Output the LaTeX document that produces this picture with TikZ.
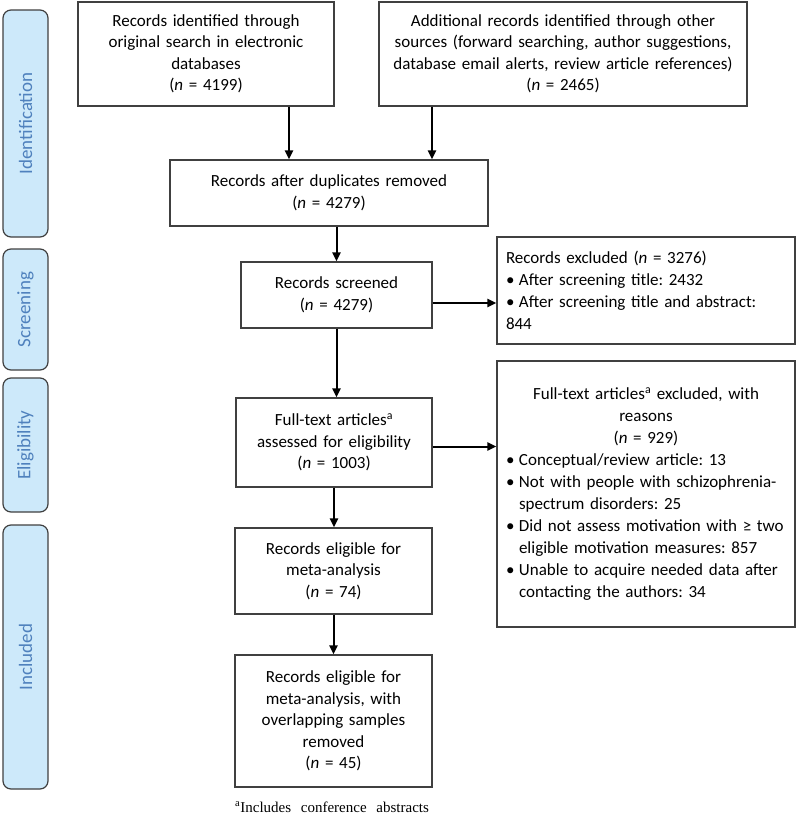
\documentclass[tikz,border=0pt]{standalone}
\usepackage{fontspec}
\setmainfont{Carlito}
\newfontfamily\notefont{Liberation Serif}
\usetikzlibrary{arrows.meta}

\definecolor{stagefill}{RGB}{205,233,250}
\definecolor{stagetext}{RGB}{79,129,189}
\definecolor{boxline}{RGB}{64,64,64}

\newcommand\bul[1]{\par\hangindent=13pt\hangafter=1\noindent\makebox[13pt][l]{\textbullet}#1}

\begin{document}
\frenchspacing
\begin{tikzpicture}[x=1pt,y=-1pt,
  box/.style={draw=boxline, line width=1.2pt, inner sep=0pt, align=center,
    font=\fontsize{17}{21.5}\selectfont},
  listbox/.style={box, align=left, font=\fontsize{17}{22}\selectfont},
  stage/.style={draw=boxline, fill=stagefill, line width=1.2pt, rounded corners=8pt,
    rotate=90, minimum height=45pt, text=stagetext, font=\fontsize{19}{22}\selectfont},
  flow/.style={-{Triangle[length=9pt,width=8pt]}, line width=2pt}]

  \useasboundingbox (0,0) rectangle (800,817);

  %% stages on the left
  \node[stage, minimum width=227pt] (ident) at (25.5,123.5) {Identification};
  \node[stage, minimum width=121pt] (screen) at (25.5,309.5) {Screening};
  \node[stage, minimum width=134pt] (elig) at (25.5,445) {Eligibility};
  \node[stage, minimum width=264pt] (incl) at (25.5,657) {Included};

  %% flow boxes
  \node[box, minimum width=256pt, minimum height=104pt, text width=246pt] (orig) at (206,54)
    {Records identified through\\ original search in electronic\\ databases\\ (\textit{n} = 4199)};
  \node[box, minimum width=368pt, minimum height=104pt, text width=362pt] (addl) at (563,54)
    {Additional records identified through other\\ sources (forward searching, author suggestions,\\ database email alerts, review article references)\\ (\textit{n} = 2465)};
  \node[box, minimum width=318pt, minimum height=66pt, text width=308pt] (dup) at (329,193)
    {Records after duplicates removed\\ (\textit{n} = 4279)};
  \node[box, minimum width=191pt, minimum height=66pt, text width=181pt] (scr) at (336.5,295)
    {Records screened\\ (\textit{n} = 4279)};
  \node[listbox, minimum width=298pt, minimum height=107pt, text width=280pt] (excl) at (646,290.5)
    {Records excluded (\textit{n} = 3276)\bul{After screening title: 2432}\bul{After screening title and abstract:\newline 844}};
  \node[box, minimum width=196pt, minimum height=89pt, text width=190pt] (ft) at (334,442.5)
    {Full-text articles\textsuperscript{a}\\ assessed for eligibility\\ (\textit{n} = 1003)};
  \node[listbox, minimum width=298pt, minimum height=266pt, text width=280pt] (ftx) at (646,494)
    {{\centering Full-text articles\textsuperscript{a} excluded, with\\ reasons\\ (\textit{n} = 929)\par}
     \bul{Conceptual/review article: 13}
     \bul{Not with people with schizophrenia-\newline spectrum disorders: 25}
     \bul{Did not assess motivation with ≥ two\newline eligible motivation measures: 857}
     \bul{Unable to acquire needed data after\newline contacting the authors: 34}\par\vspace{8pt}};
  \node[box, minimum width=197pt, minimum height=86pt, text width=187pt] (meta) at (333.5,571)
    {Records eligible for\\ meta-analysis\\ (\textit{n} = 74)};
  \node[box, minimum width=197pt, minimum height=132pt, text width=187pt] (final) at (333.5,721)
    {Records eligible for\\ meta-analysis, with\\ overlapping samples\\ removed\\ (\textit{n} = 45)};

  \node[anchor=base west, inner sep=0pt, font=\notefont\fontsize{15}{18}\selectfont] (note) at (235,812)
    {\textsuperscript{a}Includes\hspace{6pt} conference\hspace{6pt} abstracts};

  %% connectors
  \coordinate (c1) at (289,0);
  \coordinate (c2) at (432,0);
  \draw[flow] (c1 |- orig.south) -- (c1 |- dup.north);
  \draw[flow] (c2 |- addl.south) -- (c2 |- dup.north);
  \draw[flow] (dup.south -| scr.north) -- (scr.north);
  \draw[flow] (scr.south) -- (scr.south |- ft.north);
  \draw[flow] (ft.south) -- (ft.south |- meta.north);
  \draw[flow] (meta.south) -- (meta.south |- final.north);
  \draw[flow] ([yshift=-8pt]scr.east) -- ([yshift=-8pt]scr.east -| excl.west);
  \draw[flow] ([yshift=-4pt]ft.east) -- ([yshift=-4pt]ft.east -| ftx.west);
\end{tikzpicture}
\end{document}
